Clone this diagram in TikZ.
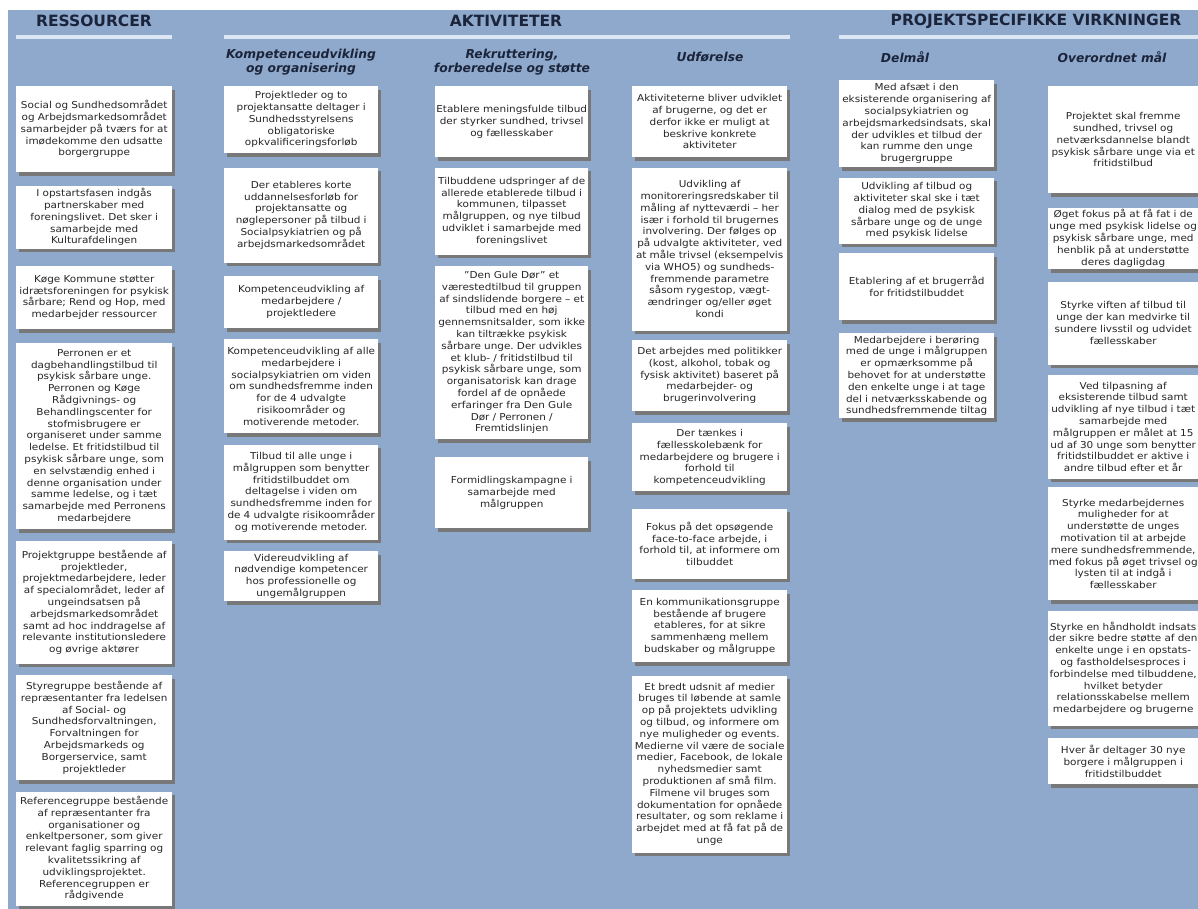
\documentclass[tikz,border=0pt]{standalone}
\usepackage{fontspec}
\setmainfont{DejaVu Sans}[FakeStretch=1.1]
\newfontfamily\headfont{DejaVu Sans}
\frenchspacing
\usepackage{tikz}
\usetikzlibrary{positioning,shadows}
\definecolor{bgblue}{RGB}{142,169,204}
\definecolor{headblue}{RGB}{27,36,58}
\definecolor{linelight}{RGB}{221,231,243}
\definecolor{boxtext}{RGB}{38,38,38}
\definecolor{shadowgray}{RGB}{120,120,120}
\tikzset{
    %Define style for boxes
    box/.style={
           rectangle,
           fill=white,
           text=boxtext,
           font=\fontsize{9.5}{11.8}\selectfont,
           align=center,
           text width=155pt,
           inner xsep=0pt,
           inner ysep=2pt,
           drop shadow={shadow xshift=3pt,shadow yshift=-3.5pt,fill=shadowgray,opacity=1}},
    %Define style for column titles
    colhead/.style={
           font=\headfont\bfseries\fontsize{15.5}{18}\selectfont,
           text=headblue,
           inner sep=0pt},
    subhead/.style={
           font=\headfont\bfseries\itshape\fontsize{12.3}{14}\selectfont,
           text=headblue,
           align=center,
           inner sep=0pt},
    % Define style for the rules under titles
    hrule/.style={
           draw=linelight,
           line width=3.5pt}
}
\begin{document}
\begin{tikzpicture}[x=1pt,y=-1pt,node distance=11pt]
\useasboundingbox (0,0) rectangle (1198,909);
\fill[white] (0,0) rectangle (1198,909);
\fill[bgblue] (8,10) rectangle (1198,909);

% titles
\node[colhead](res) at (94,21){RESSOURCER};
\node[colhead](akt) at (506,21){AKTIVITETER};
\node[colhead](proj) at (1036,21){PROJEKTSPECIFIKKE VIRKNINGER};
\draw[hrule] (16,37) -- (172,37);
\draw[hrule] (224,37) -- (790,37);
\draw[hrule] (839,37) -- (1198,37);

\node[subhead](hk) at (301,62){Kompetenceudvikling\\og organisering};
\node[subhead](ha) at (512,62){Rekruttering,\\forberedelse og støtte};
\node[subhead](hu) at (710,57){Udførelse};
\node[subhead](hd) at (905,57){Delmål};
\node[subhead](ho) at (1112,57){Overordnet mål};

% ressourcer
\node[box,anchor=north west,text width=156pt,minimum height=86pt](r1) at (16,86){Social og Sundhedsområdet\\og Arbejdsmarkedsområdet\\samarbejder på tværs for at\\imødekomme den udsatte\\borgergruppe};
\node[box,text width=156pt,below=13pt of r1,minimum height=63pt](r2){I opstartsfasen indgås\\partnerskaber med\\foreningslivet. Det sker i\\samarbejde med\\Kulturafdelingen};
\node[box,text width=156pt,below=17pt of r2,minimum height=63pt](r3){Køge Kommune støtter\\idrætsforeningen for psykisk\\sårbare; Rend og Hop, med\\medarbejder ressourcer};
\node[box,text width=156pt,below=14pt of r3,minimum height=186pt](r4){Perronen er et\\dagbehandlingstilbud til\\psykisk sårbare unge.\\Perronen og Køge\\Rådgivnings- og\\Behandlingscenter for\\stofmisbrugere er\\organiseret under samme\\ledelse. Et fritidstilbud til\\psykisk sårbare unge, som\\en selvstændig enhed i\\denne organisation under\\samme ledelse, og i tæt\\samarbejde med Perronens\\medarbejdere};
\node[box,text width=156pt,below=of r4,minimum height=123pt](r5){Projektgruppe bestående af\\projektleder,\\projektmedarbejdere, leder\\af specialområdet, leder af\\ungeindsatsen på\\arbejdsmarkedsområdet\\samt ad hoc inddragelse af\\relevante institutionsledere\\og øvrige aktører};
\node[box,text width=156pt,below=of r5,minimum height=105pt](r6){Styregruppe bestående af\\repræsentanter fra ledelsen\\af Social- og\\Sundhedsforvaltningen,\\Forvaltningen for\\Arbejdsmarkeds og\\Borgerservice, samt\\projektleder};
\node[box,text width=156pt,below=of r6,minimum height=114pt](r7){Referencegruppe bestående\\af repræsentanter fra\\organisationer og\\enkeltpersoner, som giver\\relevant faglig sparring og\\kvalitetssikring af\\udviklingsprojektet.\\Referencegruppen er\\rådgivende};

% kompetenceudvikling og organisering
\node[box,anchor=north west,text width=154pt,minimum height=67pt](k1) at (224,86){Projektleder og to\\projektansatte deltager i\\Sundhedsstyrelsens\\obligatoriske\\opkvalificeringsforløb};
\node[box,text width=154pt,below=14pt of k1,minimum height=95pt](k2){Der etableres korte\\uddannelsesforløb for\\projektansatte og\\nøglepersoner på tilbud i\\Socialpsykiatrien og på\\arbejdsmarkedsområdet};
\node[box,text width=154pt,below=13pt of k2,minimum height=52pt](k3){Kompetenceudvikling af\\medarbejdere /\\projektledere};
\node[box,text width=154pt,below=of k3,minimum height=94pt](k4){Kompetenceudvikling af alle\\medarbejdere i\\socialpsykiatrien om viden\\om sundhedsfremme inden\\for de 4 udvalgte\\risikoområder og\\motiverende metoder.};
\node[box,text width=154pt,below=of k4,minimum height=95pt](k5){Tilbud til alle unge i\\målgruppen som benytter\\fritidstilbuddet om\\deltagelse i viden om\\sundhedsfremme inden for\\de 4 udvalgte risikoområder\\og motiverende metoder.};
\node[box,text width=154pt,below=of k5,minimum height=50pt](k6){Videreudvikling af\\nødvendige kompetencer\\hos professionelle og\\ungemålgruppen};

% rekruttering, forberedelse og stoette
\node[box,anchor=north west,text width=153pt,minimum height=71pt](a1) at (435,86){Etablere meningsfulde tilbud\\der styrker sundhed, trivsel\\og fællesskaber};
\node[box,text width=153pt,below=10pt of a1,minimum height=87pt](a2){Tilbuddene udspringer af de\\allerede etablerede tilbud i\\kommunen, tilpasset\\målgruppen, og nye tilbud\\udviklet i samarbejde med\\foreningslivet};
\node[box,text width=153pt,below=of a2,minimum height=173pt](a3){"Den Gule Dør" et\\værestedtilbud til gruppen\\af sindslidende borgere – et\\tilbud med en høj\\gennemsnitsalder, som ikke\\kan tiltrække psykisk\\sårbare unge. Der udvikles\\et klub- / fritidstilbud til\\psykisk sårbare unge, som\\organisatorisk kan drage\\fordel af de opnåede\\erfaringer fra Den Gule\\Dør / Perronen /\\Fremtidslinjen};
\node[box,text width=153pt,below=18pt of a3,minimum height=71pt](a4){Formidlingskampagne i\\samarbejde med\\målgruppen};

% udfoerelse
\node[box,anchor=north west,minimum height=71pt](u1) at (632,86){Aktiviteterne bliver udviklet\\af brugerne, og det er\\derfor ikke er muligt at\\beskrive konkrete\\aktiviteter};
\node[box,below=10pt of u1,minimum height=163pt](u2){Udvikling af\\monitoreringsredskaber til\\måling af nytteværdi – her\\især i forhold til brugernes\\involvering. Der følges op\\på udvalgte aktiviteter, ved\\at måle trivsel (eksempelvis\\via WHO5) og sundheds-\\fremmende parametre\\såsom rygestop, vægt-\\ændringer og/eller øget\\kondi};
\node[box,below=9pt of u2,minimum height=71pt](u3){Det arbejdes med politikker\\(kost, alkohol, tobak og\\fysisk aktivitet) baseret på\\medarbejder- og\\brugerinvolvering};
\node[box,below=12pt of u3,minimum height=68pt](u4){Der tænkes i\\fællesskolebænk for\\medarbejdere og brugere i\\forhold til\\kompetenceudvikling};
\node[box,below=17pt of u4,minimum height=70pt](u5){Fokus på det opsøgende\\face-to-face arbejde, i\\forhold til, at informere om\\tilbuddet};
\node[box,below=of u5,minimum height=72pt](u6){En kommunikationsgruppe\\bestående af brugere\\etableres, for at sikre\\sammenhæng mellem\\budskaber og målgruppe};
\node[box,below=13pt of u6,minimum height=177pt](u7){Et bredt udsnit af medier\\bruges til løbende at samle\\op på projektets udvikling\\og tilbud, og informere om\\nye muligheder og events.\\Medierne vil være de sociale\\medier, Facebook, de lokale\\nyhedsmedier samt\\produktionen af små film.\\Filmene vil bruges som\\dokumentation for opnåede\\resultater, og som reklame i\\arbejdet med at få fat på de\\unge};

% delmaal
\node[box,anchor=north west,minimum height=87pt](d1) at (839,80){Med afsæt i den\\eksisterende organisering af\\socialpsykiatrien og\\arbejdsmarkedsindsats, skal\\der udvikles et tilbud der\\kan rumme den unge\\brugergruppe};
\node[box,below=10pt of d1,minimum height=66pt](d2){Udvikling af tilbud og\\aktiviteter skal ske i tæt\\dialog med de psykisk\\sårbare unge og de unge\\med psykisk lidelse};
\node[box,below=9pt of d2,minimum height=67pt](d3){Etablering af et brugerråd\\for fritidstilbuddet};
\node[box,below=13pt of d3,minimum height=85pt](d4){Medarbejdere i berøring\\med de unge i målgruppen\\er opmærksomme på\\behovet for at understøtte\\den enkelte unge i at tage\\del i netværksskabende og\\sundhedsfremmende tiltag};

% overordnet maal
\node[box,anchor=north west,text width=150pt,minimum height=107pt](o1) at (1048,86){Projektet skal fremme\\sundhed, trivsel og\\netværksdannelse blandt\\psykisk sårbare unge via et\\fritidstilbud};
\node[box,text width=150pt,below=14pt of o1,minimum height=61pt](o2){Øget fokus på at få fat i de\\unge med psykisk lidelse og\\psykisk sårbare unge, med\\henblik på at understøtte\\deres dagligdag};
\node[box,text width=150pt,below=12pt of o2,minimum height=83pt](o3){Styrke viften af tilbud til\\unge der kan medvirke til\\sundere livsstil og udvidet\\fællesskaber};
\node[box,text width=150pt,below=10pt of o3,minimum height=104pt](o4){Ved tilpasning af\\eksisterende tilbud samt\\udvikling af nye tilbud i tæt\\samarbejde med\\målgruppen er målet at 15\\ud af 30 unge som benytter\\fritidstilbuddet er aktive i\\andre tilbud efter et år};
\node[box,text width=150pt,below=8pt of o4,minimum height=113pt](o5){Styrke medarbejdernes\\muligheder for at\\understøtte de unges\\motivation til at arbejde\\mere sundhedsfremmende,\\med fokus på øget trivsel og\\lysten til at indgå i\\fællesskaber};
\node[box,text width=150pt,below=10pt of o5,minimum height=115pt](o6){Styrke en håndholdt indsats\\der sikre bedre støtte af den\\enkelte unge i en opstats-\\og fastholdelsesproces i\\forbindelse med tilbuddene,\\hvilket betyder\\relationsskabelse mellem\\medarbejdere og brugerne};
\node[box,text width=150pt,below=12pt of o6,minimum height=46pt](o7){Hver år deltager 30 nye\\borgere i målgruppen i\\fritidstilbuddet};
\end{tikzpicture}
\end{document}
